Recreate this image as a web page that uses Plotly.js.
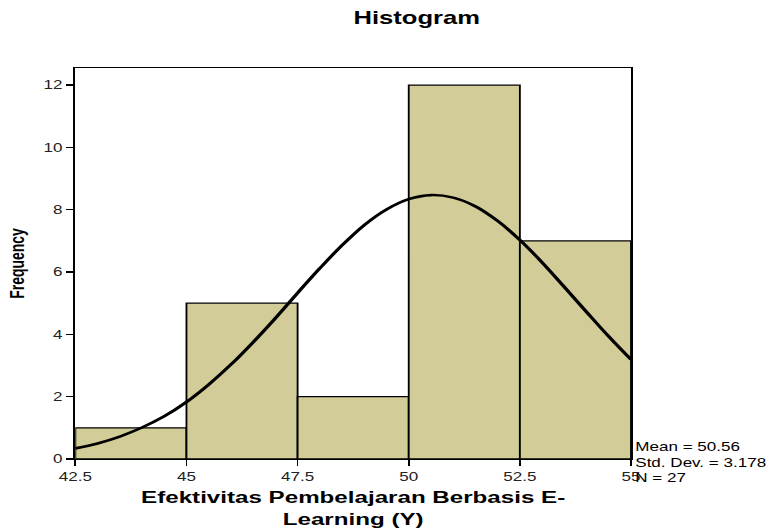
<!DOCTYPE html>
<html>
<head>
<meta charset="utf-8">
<script src="https://cdn.plot.ly/plotly-3.0.1.min.js"></script>
<style>
html,body{margin:0;padding:0;background:#fff;overflow:hidden;}
#wrap{width:776px;height:529px;overflow:hidden;}
#chart{width:546px;height:529px;transform:scaleX(1.4212);transform-origin:0 0;}
</style>
</head>
<body>
<div id="wrap"><div id="chart"></div></div>
<script>
// Histogram bins (left edges) and frequencies
const binStarts = [42.5, 45, 47.5, 50, 52.5];
const binWidth = 2.5;
const frequencies = [1, 5, 2, 12, 7];

// Normal curve
const curveX = [42.5, 43, 43.5, 44, 44.5, 45, 45.5, 46, 46.5, 47, 47.5, 48, 48.5, 49, 49.5, 50, 50.5, 51, 51.5, 52, 52.5, 53, 53.5, 54, 54.5, 55];
const curveY = [0.34, 0.50, 0.72, 1.01, 1.37, 1.83, 2.39, 3.03, 3.75, 4.52, 5.33, 6.12, 6.86, 7.51, 8.01, 8.34, 8.47, 8.39, 8.11, 7.64, 7.03, 6.31, 5.52, 4.72, 3.93, 3.19];

const xTicks = [42.5, 45, 47.5, 50, 52.5, 55];
const xTickLabels = ["42.5", "45", "47.5", "50", "52.5", "55"];
const yTicks = [0, 2, 4, 6, 8, 10, 12];

const statLines = ["Mean = 50.56", "Std. Dev. = 3.178", "N = 27"];

const font = "Liberation Sans, Arial, sans-serif";

const traces = [
  {
    type: "bar",
    x: binStarts,
    y: frequencies,
    width: binStarts.map(() => binWidth),
    offset: 0,
    marker: { color: "#d2cd98", line: { color: "#000", width: 1.3 } },
    hoverinfo: "skip"
  },
  {
    type: "scatter",
    mode: "lines",
    x: curveX,
    y: curveY,
    line: { color: "#000", width: 2.6, shape: "spline" },
    hoverinfo: "skip"
  }
];

const layout = {
  width: 546,
  height: 529,
  margin: { l: 53, r: 102, t: 68, b: 70 },
  paper_bgcolor: "#fff",
  plot_bgcolor: "#fff",
  showlegend: false,
  bargap: 0,
  title: {
    text: "<b>Histogram</b>",
    font: { family: font, size: 18, color: "#000" },
    x: 0.537, xanchor: "center",
    y: 0.966, yanchor: "middle"
  },
  xaxis: {
    range: [42.5, 55],
    tickvals: xTicks,
    ticktext: xTickLabels,
    ticks: "outside",
    ticklen: 6,
    tickwidth: 1.2,
    tickcolor: "#000",
    showgrid: false,
    zeroline: false,
    showline: true,
    linecolor: "#000",
    linewidth: 1.3,
    mirror: true,
    tickfont: { family: font, size: 12, color: "#222" },
    title: {
      text: "<b>Efektivitas Pembelajaran Berbasis E-<br>Learning (Y)</b>",
      font: { family: font, size: 17, color: "#000" },
      standoff: 8
    }
  },
  yaxis: {
    range: [0, 12.55],
    tickvals: yTicks,
    ticks: "outside",
    ticklen: 5,
    tickwidth: 1.3,
    tickcolor: "#000",
    showgrid: false,
    zeroline: false,
    showline: true,
    linecolor: "#000",
    linewidth: 1.6,
    mirror: true,
    tickfont: { family: font, size: 12, color: "#222" },
    title: {
      text: "<b>Frequency</b>",
      font: { family: font, size: 14, color: "#000" },
      standoff: 10
    }
  },
  annotations: [{
    xref: "paper", yref: "paper",
    x: 1.0, y: 0.0,
    xanchor: "left", yanchor: "middle",
    xshift: 1, yshift: -3,
    align: "left",
    showarrow: false,
    text: statLines.join("<br>"),
    font: { family: font, size: 12, color: "#000" }
  }]
};

Plotly.newPlot("chart", traces, layout, { displayModeBar: false, staticPlot: true });
</script>
</body>
</html>
